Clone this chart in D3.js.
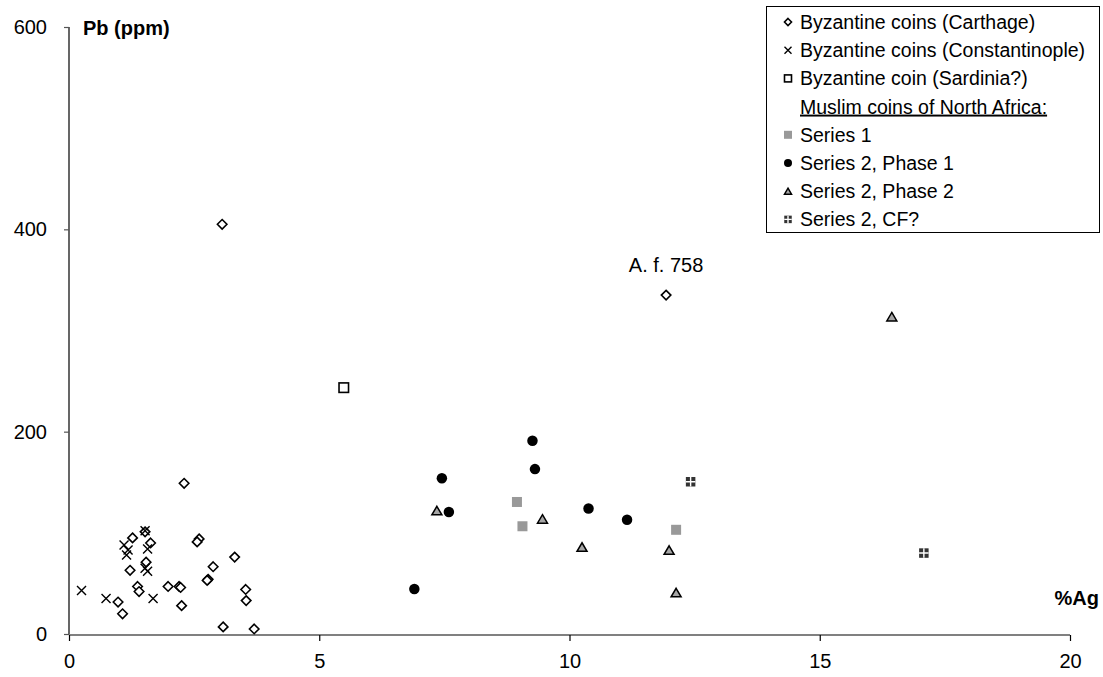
<!DOCTYPE html>
<html>
<head>
<meta charset="utf-8">
<script src="https://cdn.jsdelivr.net/npm/d3@7"></script>
<style>
  html, body { margin: 0; padding: 0; background: #fff; }
  svg { display: block; font-family: "Liberation Sans", Arial, sans-serif; }
</style>
</head>
<body>
<svg id="chart" width="1103" height="677"></svg>
<script>
// ---------- Data ----------
const carthage = [
  [2.30,149],[1.27,95],[1.52,101],[1.63,90],[2.60,94],[2.56,91],[3.31,76],[2.88,66.5],
  [1.22,63],[1.54,71],[2.78,54],[2.76,53],[1.98,47],[2.20,47],[2.23,46],[1.37,47],
  [1.40,42],[3.53,44],[3.54,33],[0.98,31.6],[1.07,20],[2.25,28],[3.08,7],[3.70,5],
  [3.06,405],[11.93,335]
];
const constantinople = [
  [0.25,43],[0.74,35],[1.68,35],[1.10,88],[1.18,83],[1.15,78],[1.52,102],[1.57,84],[1.52,65],[1.57,62]
];
const sardinia = [[5.49,243.5]];
const series1 = [[8.95,130.5],[9.06,106.5],[12.13,103]];
const s2phase1 = [[9.26,191],[9.31,163],[7.45,154],[7.59,120.6],[10.38,124],[11.15,113],[6.90,44.5]];
const s2phase2 = [[7.35,122],[9.46,113.7],[10.25,86],[11.99,83],[12.13,41],[16.44,313.6]];
const s2cf = [[12.42,150.5],[17.08,80]];
const xTicks = [0,5,10,15,20];
const yTicks = [0,200,400,600];
const legendLabels = [
  "Byzantine coins (Carthage)",
  "Byzantine coins (Constantinople)",
  "Byzantine coin (Sardinia?)",
  "Muslim coins of North Africa:",
  "Series 1",
  "Series 2, Phase 1",
  "Series 2, Phase 2",
  "Series 2, CF?"
];
const annotation = {text: "A. f. 758", x: 11.93, y: 335};

// ---------- Scales ----------
const svg = d3.select("#chart");
const x = d3.scaleLinear().domain([0,20]).range([69,1070]);
const y = d3.scaleLinear().domain([0,600]).range([634,27]);

// ---------- Marker painters ----------
function diamond(g, s) {
  const r = s/2;
  g.append("path").attr("d", `M0,${-r}L${r},0L0,${r}L${-r},0Z`)
    .attr("fill","#fff").attr("stroke","#000").attr("stroke-width",1.6);
}
function cross(g, s) {
  const r = s/2;
  g.append("path").attr("d", `M${-r},${-r}L${r},${r}M${-r},${r}L${r},${-r}`)
    .attr("fill","none").attr("stroke","#000").attr("stroke-width",1.4);
}
function openSquare(g, s) {
  g.append("rect").attr("x",-s/2).attr("y",-s/2).attr("width",s).attr("height",s)
    .attr("fill","#fff").attr("stroke","#000").attr("stroke-width",1.6);
}
function graySquare(g, s) {
  g.append("rect").attr("x",-s/2).attr("y",-s/2).attr("width",s).attr("height",s)
    .attr("fill","#999999");
}
function dot(g, s) {
  g.append("circle").attr("r",s/2).attr("fill","#000");
}
function triangle(g, s) {
  const r = s/2, h = s*0.85;
  g.append("path").attr("d", `M0,${-h/2}L${r},${h/2}L${-r},${h/2}Z`)
    .attr("fill","#a6a6a6").attr("stroke","#000").attr("stroke-width",1.5).attr("stroke-linejoin","miter");
}
function cfSquare(g, s) {
  g.append("rect").attr("x",-s/2).attr("y",-s/2).attr("width",s).attr("height",s).attr("fill","#333");
  g.append("path").attr("d", `M0,${-s/2}V${s/2}M${-s/2},0H${s/2}`)
    .attr("stroke","#fff").attr("stroke-width",1.4);
}

// ---------- Axes ----------
const yAxis = svg.append("g").attr("transform","translate(69,0)")
  .call(d3.axisLeft(y).tickValues(yTicks).tickSize(5).tickPadding(17).tickFormat(d3.format("d")));
yAxis.select(".domain").attr("stroke","#000").attr("stroke-width",1.2).attr("d","M0,27V634");
yAxis.selectAll(".tick line").attr("stroke","#555").attr("stroke-width",1.2);
yAxis.selectAll(".tick text").attr("font-size",20).attr("fill","#000")
  .attr("font-family","Liberation Sans, Arial, sans-serif");

const xAxis = svg.append("g").attr("transform","translate(0,635)")
  .call(d3.axisBottom(x).tickValues(xTicks).tickSize(6).tickPadding(13).tickFormat(d3.format("d")));
xAxis.select(".domain").attr("stroke","#808080").attr("stroke-width",2.2).attr("d","M69,0H1070");
xAxis.selectAll(".tick line").attr("stroke","#000").attr("stroke-width",1.2);
xAxis.selectAll(".tick text").attr("font-size",20).attr("fill","#000")
  .attr("font-family","Liberation Sans, Arial, sans-serif");

// Axis titles
svg.append("text").attr("x",83).attr("y",35).attr("font-size",20).attr("font-weight","bold")
  .text("Pb (ppm)");
svg.append("text").attr("x",1099).attr("y",605).attr("font-size",20).attr("font-weight","bold")
  .attr("text-anchor","end").text("%Ag");

// ---------- Points ----------
const seriesDefs = [
  {data: carthage, paint: diamond, size: 9.5},
  {data: constantinople, paint: cross, size: 9},
  {data: sardinia, paint: openSquare, size: 9.5},
  {data: series1, paint: graySquare, size: 10},
  {data: s2phase1, paint: dot, size: 10.5},
  {data: s2phase2, paint: triangle, size: 10},
  {data: s2cf, paint: cfSquare, size: 9.5}
];
const pts = svg.append("g");
seriesDefs.forEach(sd => {
  pts.selectAll(null).data(sd.data).enter().append("g")
    .attr("transform", d => `translate(${x(d[0])},${y(d[1])})`)
    .each(function(){ sd.paint(d3.select(this), sd.size); });
});

// Annotation
svg.append("text").attr("x", x(annotation.x)).attr("y", y(annotation.y) - 23)
  .attr("font-size",20).attr("text-anchor","middle").text(annotation.text);

// ---------- Legend ----------
const lg = svg.append("g");
lg.append("rect").attr("x",766.5).attr("y",6.5).attr("width",333).attr("height",226)
  .attr("fill","#fff").attr("stroke","#000").attr("stroke-width",1);
const legPainters = [diamond, cross, openSquare, null, graySquare, dot, triangle, cfSquare];
const legSizes = [7, 7, 7, 0, 8, 8, 7, 7.5];
const rowY0 = 22, rowStep = 28.2;
legendLabels.forEach((lab, i) => {
  const cy = rowY0 + i*rowStep;
  if (legPainters[i]) {
    const g = lg.append("g").attr("transform", `translate(788,${cy})`);
    legPainters[i](g, legSizes[i]);
  }
  const t = lg.append("text").attr("x",800).attr("y",cy+7).attr("font-size",19.5).text(lab);
  if (i === 3) t.attr("text-decoration","underline");
});
</script>
</body>
</html>
